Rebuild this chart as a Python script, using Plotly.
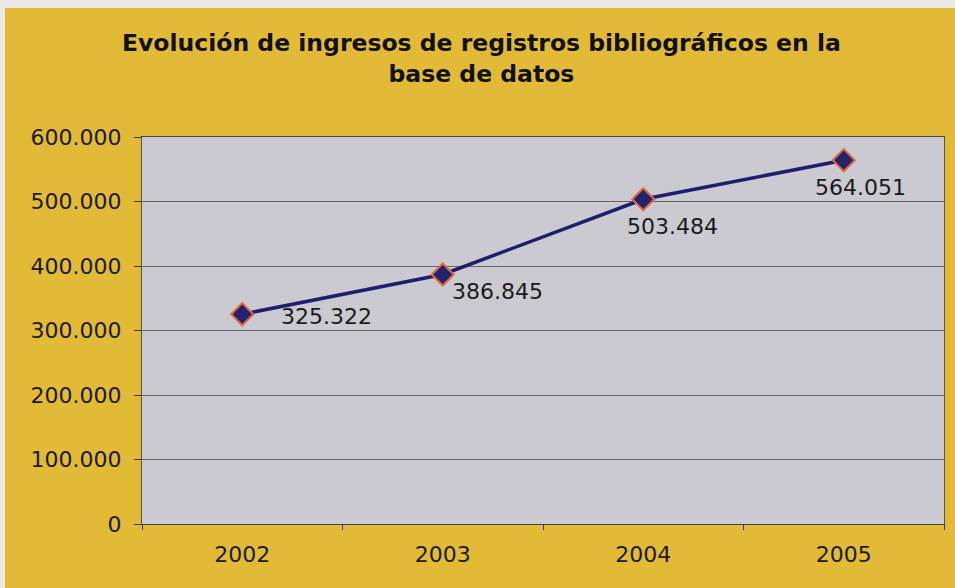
import plotly.graph_objects as go

years = ["2002", "2003", "2004", "2005"]
registros = [325322, 386845, 503484, 564051]
y_ticks = [0, 100000, 200000, 300000, 400000, 500000, 600000]

title_text = "Evolución de ingresos de registros bibliográficos en la<br>base de datos"

# label offsets (pixels) for each data label, as placed in the original
label_dx = [84, 55, 29, 17]
label_dy = [2, 17, 27, 27]

def fmt(v):
    return f"{v:,}".replace(",", ".")

fig = go.Figure()
fig.add_trace(go.Scatter(
    x=years, y=registros, mode="lines+markers",
    line=dict(color="#1E1E6C", width=3.5),
    marker=dict(symbol="diamond", size=17, color="#24246E",
                line=dict(color="#E2683A", width=2)),
    hoverinfo="skip", showlegend=False,
))

for i, v in enumerate(registros):
    fig.add_annotation(x=i, y=v, text=fmt(v), showarrow=False,
                       xref="x", yref="y",
                       xanchor="center", yanchor="middle",
                       xshift=label_dx[i], yshift=-label_dy[i],
                       font=dict(family="DejaVu Sans", size=22, color="#1a1a1a"))

W, H = 955, 588
L, R, T, B = 142, 11, 137, 64
pw, ph = W - L - R, H - T - B

def px_x(p):
    return (p - L) / pw

def px_y(p):
    return (H - B - p) / ph

# title as annotation, centred on the two lines
fig.add_annotation(text=title_text, xref="paper", yref="paper",
                   x=px_x(481), y=px_y(58), xanchor="center", yanchor="middle",
                   showarrow=False, align="center",
                   font=dict(family="DejaVu Sans", size=23.5, color="#111111", weight="bold"))

# light frame strips at top and left
fig.add_shape(type="rect", xref="paper", yref="paper",
              x0=px_x(0), x1=px_x(W), y0=px_y(8), y1=px_y(0),
              fillcolor="#E9E9E6", line=dict(width=0), layer="below")
fig.add_shape(type="rect", xref="paper", yref="paper",
              x0=px_x(0), x1=px_x(5), y0=px_y(H), y1=px_y(0),
              fillcolor="#E9E9E6", line=dict(width=0), layer="below")

fig.update_layout(
    width=W, height=H,
    margin=dict(l=L, r=R, t=T, b=B),
    paper_bgcolor="#E2BA36",
    plot_bgcolor="#CACAD0",
    separators=",.",
    font=dict(family="DejaVu Sans", color="#1a1a1a"),
)

fig.update_xaxes(
    type="category", range=[-0.5, 3.5],
    tickson="boundaries", ticks="outside", ticklen=5, tickcolor="#333",
    showline=True, linecolor="#444", linewidth=1, mirror=True,
    showgrid=False, ticklabelstandoff=11,
    tickfont=dict(size=22, color="#1a1a1a"),
)
fig.update_yaxes(
    range=[0, 600000], tickvals=y_ticks, tickformat=",d",
    ticks="outside", ticklen=7, tickcolor="#333",
    showline=True, linecolor="#555", linewidth=1, mirror=True,
    showgrid=True, gridcolor="#666", gridwidth=1,
    zeroline=False, ticklabelstandoff=8,
    tickfont=dict(size=22, color="#1a1a1a"),
)

fig.write_html("out.html",
               config={"displayModeBar": False},
               post_script="document.body.style.margin='0';document.body.style.overflow='hidden';")
